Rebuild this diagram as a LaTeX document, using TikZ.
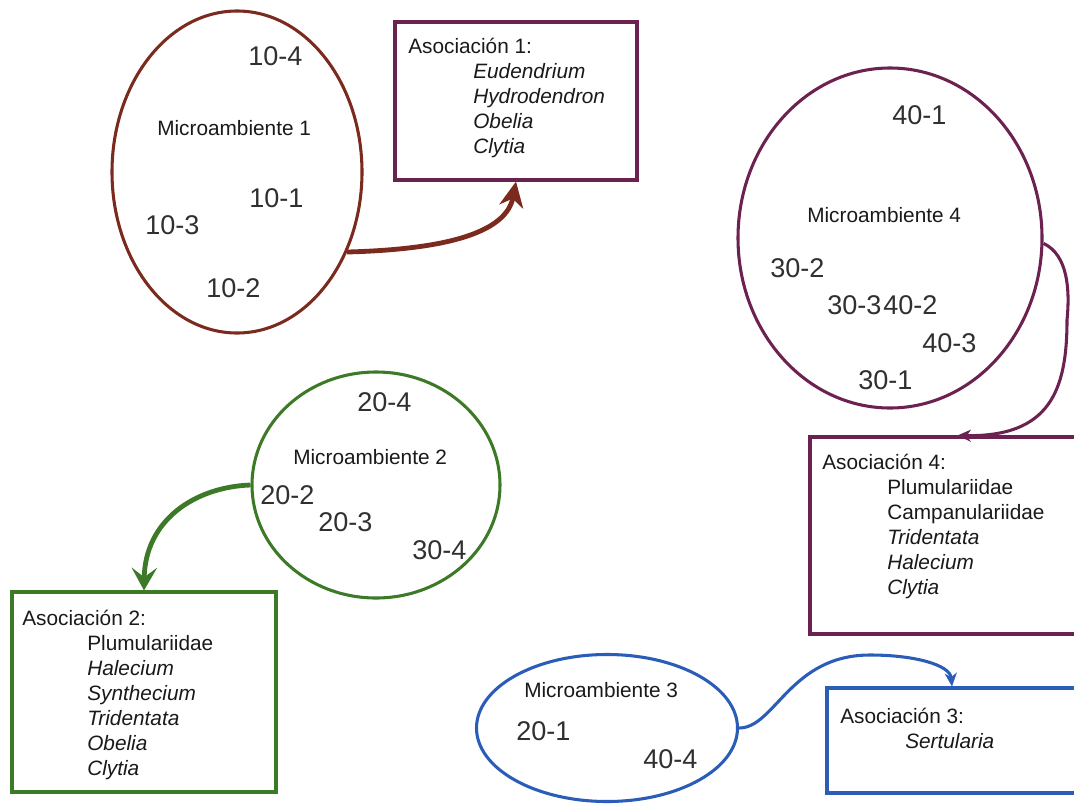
\documentclass[tikz,border=0pt]{standalone}
\usepackage{fontspec}
\setmainfont{Liberation Sans}
\usepackage{tikz}
\usetikzlibrary{shapes.geometric, arrows.meta, calc}
\definecolor{brownred}{HTML}{7B2A1E}
\definecolor{plum}{HTML}{6C2250}
\definecolor{leafgreen}{HTML}{3D7A27}
\definecolor{seablue}{HTML}{2A5CB8}
\definecolor{numgray}{HTML}{303030}
\tikzset{
    ambell/.style={draw=#1, ellipse, line width=2.3pt, inner sep=0pt},
    asocbox/.style={draw=#1, rectangle, line width=2.3pt, inner sep=0pt},
    asoctext/.style={font=\fontsize{15.6pt}{18.75pt}\selectfont, align=left, inner sep=0pt, anchor=base west, text=black!90},
    ambname/.style={font=\fontsize{15.6pt}{18pt}\selectfont, inner sep=0pt, anchor=west, text=black!90},
    samplenum/.style={font=\fontsize{20.3pt}{24pt}\selectfont, inner sep=0pt, anchor=west, text=numgray},
}
\newcommand{\taxind}{\hspace*{48.75pt}}

\begin{document}
\begin{tikzpicture}[x=0.75pt, y=-0.75pt]
\useasboundingbox (0,0) rectangle (1074,810);
\clip (0,0) rectangle (1074,810);

% microambiente 1
\node[ambell=brownred, minimum width=187.5pt, minimum height=241.5pt] (amb1) at (237,172) {};
\node[samplenum] (s104) at (248,56) {10-4};
\node[ambname] (mic1) at (157,128) {Microambiente 1};
\node[samplenum] (s101) at (249,198) {10-1};
\node[samplenum] (s103) at (145,225) {10-3};
\node[samplenum] (s102) at (206,288) {10-2};

\node[asocbox=plum, minimum width=181.5pt, minimum height=118.5pt] (asoc1) at (516,101) {};
% base = last line
\node[asoctext] (txt1) at (408,153.5) {Asociación 1:\\
  \taxind\textit{Eudendrium}\\
  \taxind\textit{Hydrodendron}\\
  \taxind\textit{Obelia}\\
  \taxind\textit{Clytia}};

\draw[brownred, line width=3.6pt, -{Stealth[length=19pt, width=18pt, inset=6pt]}]
  (amb1.-36) .. controls (420,250) and (505,240) .. (asoc1.south);

% microambiente 2
\node[ambell=leafgreen, minimum width=186pt, minimum height=169.5pt] (amb2) at (376,485) {};
\node[samplenum] (s204) at (357,402) {20-4};
\node[ambname] (mic2) at (293,457) {Microambiente 2};
\node[samplenum] (s202) at (260,495) {20-2};
\node[samplenum] (s203) at (318,522) {20-3};
\node[samplenum] (s304) at (412,550) {30-4};

\node[asocbox=leafgreen, minimum width=198pt, minimum height=150pt] (asoc2) at (144,692) {};
\node[asoctext] (txt2) at (22,775.5) {Asociación 2:\\
  \taxind Plumulariidae\\
  \taxind\textit{Halecium}\\
  \taxind\textit{Synthecium}\\
  \taxind\textit{Tridentata}\\
  \taxind\textit{Obelia}\\
  \taxind\textit{Clytia}};

\draw[leafgreen, line width=3.6pt, -{Stealth[length=17pt, width=19pt, inset=7pt]}]
  (amb2.west) .. controls (195,487) and (145,520) .. (asoc2.north);

% microambiente 3
\node[ambell=seablue, minimum width=195.75pt, minimum height=110.25pt] (amb3) at (607,728) {};
\node[ambname] (mic3) at (524,690) {Microambiente 3};
\node[samplenum] (s201) at (516,731) {20-1};
\node[samplenum] (s404) at (643,759) {40-4};

\node[asocbox=seablue, minimum width=187.5pt, minimum height=78.75pt] (asoc3) at (952,740.5) {};
\node[asoctext] (txt3) at (840,748.5) {Asociación 3:\\
  \taxind\textit{Sertularia}};

\draw[seablue, line width=2.3pt, -{Stealth[length=10pt, width=9pt, inset=3pt]}]
  (amb3.east) .. controls (775,728) and (790,655) .. (870,655)
  .. controls (915,655) and (950,665) .. (asoc3.north);

% microambiente 4
\node[ambell=plum, minimum width=228pt, minimum height=255pt] (amb4) at (890,238) {};
\node[samplenum] (s401) at (892,115) {40-1};
\node[ambname] (mic4) at (807,215) {Microambiente 4};
\node[samplenum] (s302) at (770,268) {30-2};
\node[samplenum] (s303) at (827,305) {30-3};
\node[samplenum] (s402) at (883,305) {40-2};
\node[samplenum] (s403) at (922,343) {40-3};
\node[samplenum] (s301) at (858,380) {30-1};

\node[asocbox=plum, minimum width=200.25pt, minimum height=147.75pt] (asoc4) at (943.5,535.5) {};
\node[asoctext] (txt4) at (822,594.5) {Asociación 4:\\
  \taxind Plumulariidae\\
  \taxind Campanulariidae\\
  \taxind\textit{Tridentata}\\
  \taxind\textit{Halecium}\\
  \taxind\textit{Clytia}};

\draw[plum, line width=2.3pt, -{Stealth[length=10pt, width=9pt, inset=3pt]}]
  (amb4.-2) .. controls (1068,255) and (1070,290) .. (1067,320)
  .. controls (1067,390) and (1050,437) .. ($(asoc4.north)+(14,0)$);

\end{tikzpicture}
\end{document}
